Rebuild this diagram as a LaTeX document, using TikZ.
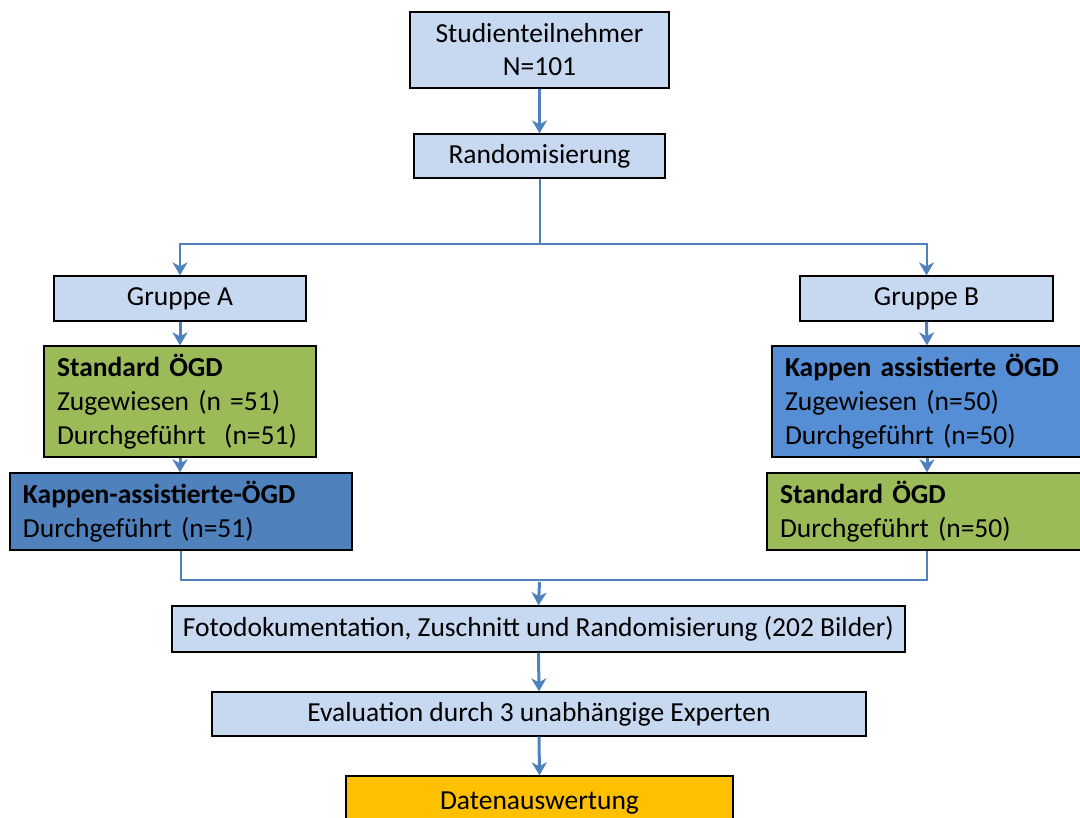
\documentclass[tikz,border=0pt]{standalone}
\usepackage{fontspec}
\setmainfont{Carlito}
\usetikzlibrary{arrows.meta}
\definecolor{lblue}{HTML}{C6D9F1}
\definecolor{gr}{HTML}{9BBB59}
\definecolor{dblue}{HTML}{4F81BD}
\definecolor{mblue}{HTML}{558ED5}
\definecolor{orng}{HTML}{FFC000}
\definecolor{arr}{HTML}{4F81BD}
\tikzset{
  box/.style={draw=black, line width=1.3pt, inner sep=0pt, font=\fontsize{27.5}{33}\selectfont, align=center},
  lbox/.style={box, align=left, inner xsep=13pt, font=\fontsize{27.5}{34}\selectfont},
  tip/.style={-{Stealth[length=13pt,width=15pt,inset=4pt]}},
  mainarr/.style={draw=arr, line width=3pt, tip},
  brarr/.style={draw=arr, line width=2pt, tip},
  brline/.style={draw=arr, line width=2pt},
}
\begin{document}
\begin{tikzpicture}[x=1pt,y=-1pt]
\useasboundingbox (0,0) rectangle (1080,818);
\clip (0,0) rectangle (1080,818);
\node[box, fill=lblue, minimum width=259pt, minimum height=76pt] (stud) at (539.5,50) {Studienteilnehmer\\N=101};
\node[box, fill=lblue, minimum width=251pt, minimum height=44pt] (rand) at (539.5,156) {Randomisierung};
\node[box, fill=lblue, minimum width=252pt, minimum height=45pt] (gA) at (180,298.5) {Gruppe A};
\node[box, fill=lblue, minimum width=253pt, minimum height=45pt] (gB) at (926.5,298.5) {Gruppe B};
\node[lbox, fill=gr, text width=246pt, minimum height=111pt] (stA) at (180,401.5) {\textbf{Standard ÖGD}\\Zugewiesen (n =51)\\Durchgeführt\ \ (n=51)};
\node[lbox, fill=dblue, text width=316pt, minimum height=77pt] (kA) at (181,511.5) {\textbf{Kappen-assistierte-ÖGD}\\Durchgeführt (n=51)};
\node[lbox, fill=mblue, text width=284pt, minimum height=111pt] (kB) at (927,401.5) {\textbf{Kappen assistierte ÖGD}\\Zugewiesen (n=50)\\Durchgeführt (n=50)};
\node[lbox, fill=gr, text width=294pt, minimum height=77pt] (sB) at (927,511.5) {\textbf{Standard ÖGD}\\Durchgeführt (n=50)};
\node[box, fill=lblue, minimum width=733pt, minimum height=46pt] (foto) at (538.5,629) {Fotodokumentation, Zuschnitt und Randomisierung (202 Bilder)};
\node[box, fill=lblue, minimum width=654pt, minimum height=44pt] (eval) at (539,714) {Evaluation durch 3 unabhängige Experten};
\node[box, fill=orng, minimum width=387pt, minimum height=54pt] (dat) at (539.5,803) {Datenauswertung};
\coordinate (split) at (539.5,244);
\coordinate (join) at (539.5,580);
\draw[mainarr] (stud.south) -- (rand.north);
\draw[brline] (rand.south) -- (split);
\draw[brarr] (split) -| (gA.north);
\draw[brarr] (split) -| (gB.north);
\draw[mainarr] (gA.south) -- (stA.north);
\draw[mainarr] (stA.south) -- (stA.south |- kA.north);
\draw[mainarr] (gB.south) -- (kB.north);
\draw[mainarr] (kB.south) -- (sB.north);
\draw[brline] (kA.south) |- (join);
\draw[brline] (sB.south) |- (join);
\draw[mainarr] ([yshift=-2pt]join) -- (foto.north);
\draw[mainarr] (foto.south) -- (eval.north);
\draw[mainarr] (eval.south) -- (dat.north);
\end{tikzpicture}
\end{document}
